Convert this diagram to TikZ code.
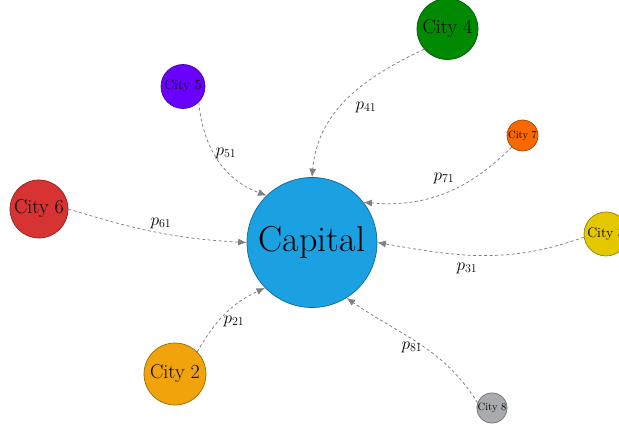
\documentclass[tikz,border=0pt]{standalone}
\usetikzlibrary{arrows.meta}
\definecolor{capc}{HTML}{1BA1E2}
\definecolor{cfour}{HTML}{008A00}
\definecolor{cfive}{HTML}{6A00FF}
\definecolor{cseven}{HTML}{FA6800}
\definecolor{csix}{HTML}{D83333}
\definecolor{cthree}{HTML}{E3C800}
\definecolor{ctwo}{HTML}{F0A30A}
\definecolor{ceight}{HTML}{A9ABAF}
\begin{document}
\begin{tikzpicture}[x=1pt,y=1pt,
  city/.style={circle, draw=#1!65!black, fill=#1, inner sep=0pt, line width=0.7pt, text=black},
  flow/.style={draw=black!50, line width=0.75pt, dash pattern=on 3pt off 2.5pt,
               -{Latex[length=8.5pt,width=7pt]}},
  lab/.style={font=\fontsize{17.5}{20}\selectfont, inner sep=0pt},
  big/.style={font=\fontsize{36}{40}\selectfont},
  mid/.style={font=\fontsize{20}{24}\selectfont},
  sml/.style={font=\fontsize{14}{16}\selectfont},
  tny/.style={font=\fontsize{10.5}{12}\selectfont}]
\useasboundingbox (0,0) rectangle (619,428);
\node[city=capc, minimum size=130pt, big] (cap) at (312,185.5) {Capital};
\node[city=cfour, minimum size=61pt, mid] (c4) at (447.5,399) {City 4};
\node[city=cfive, minimum size=44pt, sml] (c5) at (183,341.5) {City 5};
\node[city=cseven, minimum size=31pt, tny] (c7) at (522.5,292.5) {City 7};
\node[city=csix, minimum size=58pt, mid] (c6) at (39,219) {City 6};
\node[city=cthree, minimum size=44pt, sml] (c3) at (606,194) {City 3};
\node[city=ctwo, minimum size=62pt, mid] (c2) at (175,54) {City 2};
\node[city=ceight, minimum size=30pt, tny] (c8) at (492,20) {City 8};

\draw[flow] (c4.221) to[out=205,in=85] (cap.90);
\draw[flow] (c5.-45) to[out=-85,in=160] (cap.134);
\draw[flow] (c7.227) to[out=225,in=-5] (cap.38);
\draw[flow] (c6.0) to[out=-17,in=177] (cap.180);
\draw[flow] (c3.188) to[out=200,in=-10] (cap.0);
\draw[flow] (c2.45) to[out=60,in=205] (cap.224);
\draw[flow] (c8.160) to[out=122,in=-35] (cap.302);

\node[lab] (l4) at (366,321) {$p_{41}$};
\node[lab] (l5) at (226,275) {$p_{51}$};
\node[lab] (l7) at (444,250) {$p_{71}$};
\node[lab] (l6) at (161,205) {$p_{61}$};
\node[lab] (l3) at (467,160) {$p_{31}$};
\node[lab] (l2) at (234,107) {$p_{21}$};
\node[lab] (l8) at (412,81) {$p_{81}$};
\end{tikzpicture}
\end{document}
